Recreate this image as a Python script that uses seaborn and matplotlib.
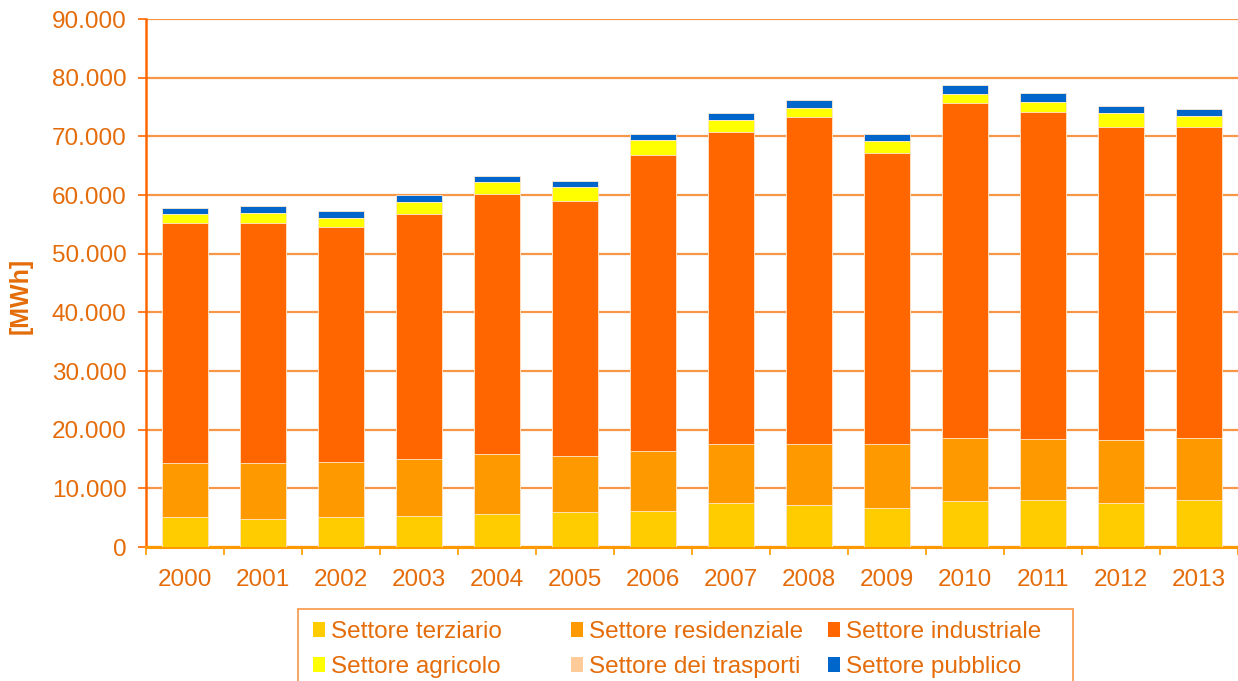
import matplotlib
matplotlib.use("Agg")
import matplotlib.pyplot as plt
import seaborn as sns
import numpy as np
import pandas as pd
from matplotlib.ticker import FuncFormatter, FixedLocator
from matplotlib.patches import Patch, Rectangle

# dati (MWh)
anni = ["2000", "2001", "2002", "2003", "2004", "2005", "2006",
        "2007", "2008", "2009", "2010", "2011", "2012", "2013"]
terziario = [5100, 4850, 5100, 5300, 5550, 6000, 6200,
             7550, 7150, 6650, 7850, 8000, 7550, 8000]
residenziale = [9200, 9450, 9450, 9700, 10350, 9500, 10150,
                10000, 10400, 10900, 10750, 10400, 10700, 10600]
industriale = [40850, 40850, 39950, 41750, 44250, 43550, 50550,
               53250, 55700, 49650, 57150, 55750, 53400, 53050]
agricolo = [1600, 1800, 1650, 2100, 2000, 2250, 2500,
            2050, 1650, 2000, 1550, 1750, 2250, 1900]
trasporti = [0, 0, 0, 0, 0, 0, 0, 0, 0, 0, 0, 0, 0, 0]
pubblico = [950, 1150, 1100, 1100, 1150, 1150, 1050,
            1150, 1300, 1200, 1450, 1450, 1250, 1150]

serie = ["Settore terziario", "Settore residenziale", "Settore industriale",
         "Settore agricolo", "Settore dei trasporti", "Settore pubblico"]
valori = [terziario, residenziale, industriale, agricolo, trasporti, pubblico]
colori = ["#FFCC00", "#FF9900", "#FF6600", "#FFFF00", "#FFCC99", "#0066CC"]

TXT = "#E46C0A"
GRID = "#F79646"
AXC = "#FF6600"
FS = 17.5

sns.set_theme(style="white")
plt.rcParams["font.family"] = ["Liberation Sans", "DejaVu Sans"]

df = pd.DataFrame(dict(zip(serie, valori)), index=anni)
cum = df.cumsum(axis=1)

W, H = 1238, 681
fig = plt.figure(figsize=(W / 100, H / 100), dpi=100)
ax = fig.add_axes([146 / W, 1 - 547 / H, 1092 / W, 528 / H])

# barre impilate: si disegnano i cumulati dal piu' alto al piu' basso
for s, c in reversed(list(zip(serie, colori))):
    sns.barplot(x=anni, y=cum[s].values, color=c, saturation=1, width=0.59,
                ax=ax, edgecolor="#FFE8D0", linewidth=0.6, zorder=3)

ax.set_ylim(0, 90000)
ax.set_xlim(-0.5, 13.5)
ax.yaxis.set_major_locator(FixedLocator(np.arange(0, 90001, 10000)))
ax.yaxis.set_major_formatter(FuncFormatter(lambda v, p: f"{int(v):,}".replace(",", ".")))
ax.grid(axis="y", color=GRID, linewidth=1.6, zorder=0)
ax.set_axisbelow(True)

for sp in ["top", "right"]:
    ax.spines[sp].set_visible(False)
ax.spines["left"].set_color(AXC)
ax.spines["left"].set_linewidth(1.8)
ax.spines["bottom"].set_color("#FF9900")
ax.spines["bottom"].set_linewidth(2.2)

ax.tick_params(axis="y", colors=AXC, labelcolor=TXT, labelsize=FS,
               length=6, width=1.2, pad=8, direction="out", left=True)
ax.xaxis.set_minor_locator(FixedLocator(np.arange(-0.5, 14, 1)))
ax.tick_params(axis="x", which="major", length=0, labelcolor=TXT,
               labelsize=FS, pad=16)
ax.tick_params(axis="x", which="minor", length=6, width=1.2,
               color="#FF9900", direction="out", bottom=True)

ax.set_xlabel("")
ax.set_ylabel("[MWh]", color=TXT, fontsize=18, fontweight="bold")
ax.yaxis.set_label_coords(-0.104, 0.475)

# legenda: tre colonne, ognuna con due voci, dentro un riquadro comune
colonne = [[0, 3], [1, 4], [2, 5]]
x_col = [313, 571, 828]
for idx, xc in zip(colonne, x_col):
    hh = [Patch(facecolor=colori[i], edgecolor="none") for i in idx]
    ll = [serie[i] for i in idx]
    leg = fig.legend(hh, ll, loc="upper left",
                     bbox_to_anchor=(xc / W, 1 - 621 / H),
                     frameon=False, fontsize=FS, borderpad=0, borderaxespad=0,
                     handlelength=0.5, handleheight=0.55, handletextpad=0.25,
                     labelspacing=0.55)
    for t in leg.get_texts():
        t.set_color(TXT)

fig.add_artist(Rectangle((297.5 / W, -0.05), (1073 - 297.5) / W, (H - 609) / H + 0.05,
                         transform=fig.transFigure, fill=False,
                         edgecolor=GRID, linewidth=1.2))

fig.savefig("out.png", dpi=100)
